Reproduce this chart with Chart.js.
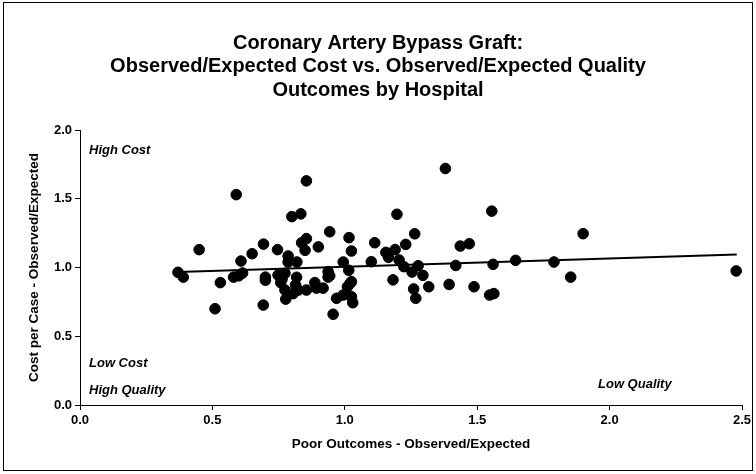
<!DOCTYPE html>
<html>
<head>
<meta charset="utf-8">
<script src="https://cdn.jsdelivr.net/npm/chart.js@4.4.0/dist/chart.umd.min.js"></script>
<style>
  html, body { margin: 0; padding: 0; background: #fff; }
  #wrap { width: 756px; height: 474px; }
</style>
</head>
<body>
<div id="wrap"><canvas id="scatter-chart" width="756" height="474"></canvas></div>
<script>
    "use strict";

    // Hospital points: poor outcomes O/E (x) and cost per case O/E (y)
    var outcomeOE = [0.37, 0.39, 0.45, 0.51, 0.53, 0.58, 0.60, 0.614, 0.59, 0.608,
        0.65, 0.693, 0.692, 0.70, 0.70, 0.746, 0.748, 0.763, 0.774, 0.758,
        0.786, 0.786, 0.80, 0.834, 0.855, 0.837, 0.855, 0.85, 0.90, 0.819,
        0.818, 0.814, 0.824, 0.805, 0.774, 0.777, 0.855, 0.887, 0.893, 0.918,
        0.943, 0.937, 0.937, 0.943, 0.994, 1.016, 1.025, 0.969, 0.994, 1.025,
        1.03, 0.956, 1.015, 1.02, 1.025, 1.01, 1.113, 1.197, 1.264, 1.23,
        1.19, 1.155, 1.165, 1.10, 1.205, 1.223, 1.277, 1.254, 1.295, 1.182,
        1.26, 1.268, 1.317, 1.38, 1.394, 1.419, 1.436, 1.47, 1.488, 1.547,
        1.563, 1.555, 1.56, 1.645, 1.79, 1.853, 1.90, 2.478];
    var costOE = [0.965, 0.93, 1.13, 0.70, 0.89, 0.93, 0.94, 0.96, 1.53, 1.047,
        1.10, 1.17, 0.727, 0.93, 0.907, 1.13, 0.945, 0.916, 0.958, 0.89,
        1.084, 1.04, 1.37, 1.39, 1.63, 1.18, 1.21, 1.125, 1.15, 1.04,
        0.929, 0.873, 0.836, 0.81, 0.836, 0.77, 0.836, 0.89, 0.85, 0.85,
        1.26, 0.97, 0.93, 0.94, 1.04, 1.217, 1.12, 0.776, 0.80, 0.788,
        0.744, 0.66, 0.98, 0.885, 0.897, 0.86, 1.18, 1.387, 1.245, 1.168,
        1.13, 1.11, 1.074, 1.042, 1.055, 1.006, 1.013, 0.967, 0.943, 0.91,
        0.844, 0.776, 0.86, 1.72, 0.877, 1.015, 1.156, 1.173, 0.86, 0.80,
        0.81, 1.41, 1.023, 1.052, 1.04, 0.93, 1.246, 0.975];

    // Trend line ends
    var trendX = [0.37, 2.48];
    var trendY = [0.968, 1.094];

    // Axis ticks
    var xTicks = [0, 0.5, 1.0, 1.5, 2.0, 2.5];
    var yTicks = [0, 0.5, 1.0, 1.5, 2.0];

    var titleLines = ["Coronary Artery Bypass Graft:",
        "Observed/Expected Cost vs. Observed/Expected Quality",
        "Outcomes by Hospital"];

    var FONT = "'Liberation Sans', Arial, Helvetica, sans-serif";
    Chart.defaults.font.family = FONT;
    Chart.defaults.color = "#000";

    function toPoints(xs, ys) {
        return xs.map(function (x, i) {
            return {x: x, y: ys[i]};
        });
    }

    // Border, title and quadrant notes
    var notesPlugin = {
        id: "notes",
        beforeDraw: function (chart) {
            var ctx = chart.ctx;
            ctx.save();
            ctx.fillStyle = "#fff";
            ctx.fillRect(0, 0, chart.width, chart.height);
            ctx.strokeStyle = "#000";
            ctx.lineWidth = 1;
            ctx.strokeRect(3.5, 2.5, chart.width - 7, chart.height - 6);
            ctx.restore();
        },
        afterDraw: function (chart) {
            var ctx = chart.ctx;
            var area = chart.chartArea;
            ctx.save();
            ctx.fillStyle = "#000";
            ctx.textAlign = "center";
            ctx.textBaseline = "middle";
            ctx.font = "bold 20px " + FONT;
            titleLines.forEach(function (line, i) {
                ctx.fillText(line, chart.width / 2, 43 + i * 23.5);
            });

            ctx.font = "italic bold 13px " + FONT;
            ctx.textAlign = "left";
            ctx.fillText("High Cost", area.left + 9, area.top + 20);
            ctx.fillText("Low Cost", area.left + 9, area.bottom - 42);
            ctx.fillText("High Quality", area.left + 9, area.bottom - 15);
            ctx.fillText("Low Quality", area.right - 144, area.bottom - 21);
            ctx.restore();
        }
    };

    var tickFont = {size: 13, weight: "bold"};
    var titleFont = {size: 13.5, weight: "bold"};

    new Chart(document.getElementById("scatter-chart").getContext("2d"), {
        type: "scatter",
        data: {
            datasets: [{
                label: "Hospitals",
                data: toPoints(outcomeOE, costOE),
                backgroundColor: "#000",
                borderColor: "#000",
                pointRadius: 5.3,
                pointHoverRadius: 5.3,
                order: 2
            }, {
                type: "line",
                label: "Trend",
                data: toPoints(trendX, trendY),
                borderColor: "#000",
                borderWidth: 2,
                pointRadius: 0,
                fill: false,
                order: 1
            }]
        },
        options: {
            responsive: false,
            animation: false,
            devicePixelRatio: 1,
            layout: {
                padding: {left: 26, right: 14, top: 130, bottom: 22}
            },
            plugins: {
                legend: {display: false},
                tooltip: {enabled: false}
            },
            scales: {
                x: {
                    type: "linear",
                    min: 0,
                    max: 2.5,
                    afterBuildTicks: function (scale) {
                        scale.ticks = xTicks.map(function (v) { return {value: v}; });
                    },
                    afterFit: function (scale) { scale.height = 47; },
                    ticks: {
                        font: tickFont,
                        padding: 3,
                        callback: function (v) { return Number(v).toFixed(1); }
                    },
                    grid: {drawOnChartArea: false, tickLength: 5, color: "#000"},
                    border: {color: "#000", width: 1},
                    title: {
                        display: true,
                        text: "Poor Outcomes - Observed/Expected",
                        font: titleFont,
                        padding: {top: 0, bottom: 0}
                    }
                },
                y: {
                    type: "linear",
                    min: 0,
                    max: 2,
                    afterBuildTicks: function (scale) {
                        scale.ticks = yTicks.map(function (v) { return {value: v}; });
                    },
                    afterFit: function (scale) { scale.width = 54; },
                    ticks: {
                        font: tickFont,
                        padding: 3,
                        callback: function (v) { return Number(v).toFixed(1); }
                    },
                    grid: {drawOnChartArea: false, tickLength: 5, color: "#000"},
                    border: {color: "#000", width: 1},
                    title: {
                        display: true,
                        text: "Cost per Case - Observed/Expected",
                        font: titleFont,
                        padding: {top: 0, bottom: 0}
                    }
                }
            }
        },
        plugins: [notesPlugin]
    });
</script>
</body>
</html>
